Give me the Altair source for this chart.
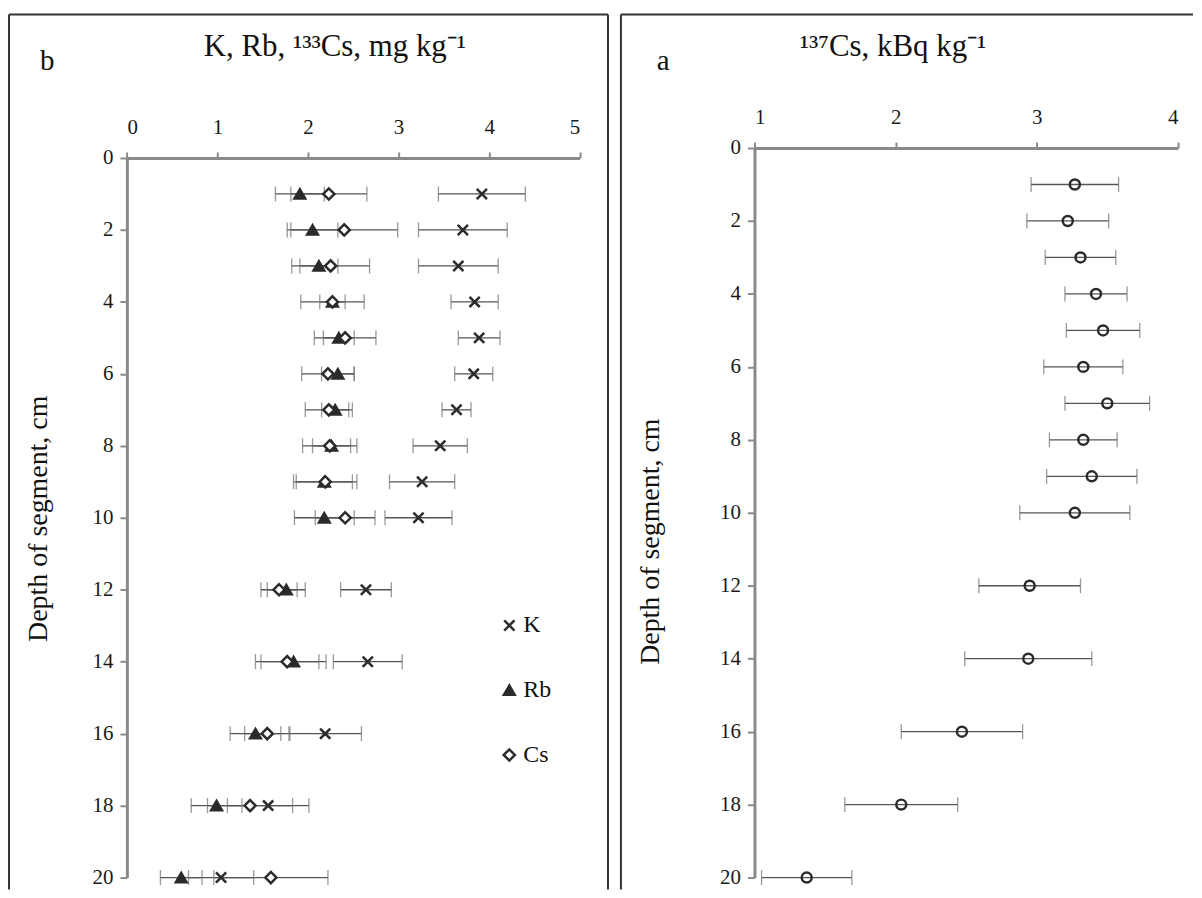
import altair as alt
import pandas as pd

# ---------------- data ----------------
depth = [1, 2, 3, 4, 5, 6, 7, 8, 9, 10, 12, 14, 16, 18, 20]

k_mean = [3.92, 3.71, 3.66, 3.84, 3.89, 3.83, 3.64, 3.46, 3.26, 3.22, 2.64, 2.66, 2.19, 1.56, 1.04]
k_err = [0.48, 0.49, 0.44, 0.26, 0.23, 0.21, 0.16, 0.30, 0.36, 0.37, 0.28, 0.38, 0.40, 0.45, 0.36]

rb_mean = [1.91, 2.05, 2.12, 2.27, 2.34, 2.33, 2.30, 2.26, 2.18, 2.18, 1.76, 1.84, 1.42, 0.99, 0.60]
rb_err = [0.27, 0.28, 0.21, 0.14, 0.17, 0.18, 0.15, 0.21, 0.31, 0.33, 0.21, 0.36, 0.28, 0.28, 0.23]

cs_mean = [2.23, 2.40, 2.25, 2.27, 2.41, 2.22, 2.23, 2.24, 2.19, 2.41, 1.68, 1.77, 1.55, 1.36, 1.59]
cs_err = [0.42, 0.59, 0.43, 0.35, 0.34, 0.29, 0.26, 0.30, 0.35, 0.33, 0.20, 0.35, 0.25, 0.47, 0.63]

cs137_mean = [3.27, 3.22, 3.31, 3.42, 3.47, 3.33, 3.50, 3.33, 3.39, 3.27, 2.95, 2.94, 2.47, 2.04, 1.37]
cs137_err = [0.31, 0.29, 0.25, 0.22, 0.26, 0.28, 0.30, 0.24, 0.32, 0.39, 0.36, 0.45, 0.43, 0.40, 0.32]

elements = ["K", "Rb", "Cs"]
left_ticks = [0, 1, 2, 3, 4, 5]
right_ticks = [1, 2, 3, 4]
depth_ticks = [0, 2, 4, 6, 8, 10, 12, 14, 16, 18, 20]

title_left = "K, Rb, ¹³³Cs, mg kg⁻¹"
title_right = "¹³⁷Cs, kBq kg⁻¹"
depth_title = "Depth of segment, cm"

# ---------------- tables ----------------
rows = []
for name, m, e in [("K", k_mean, k_err), ("Rb", rb_mean, rb_err), ("Cs", cs_mean, cs_err)]:
    for d, mv, ev in zip(depth, m, e):
        rows.append({"el": name, "depth": d, "val": mv, "lo": mv - ev, "hi": mv + ev})
df_left = pd.DataFrame(rows)

df_right = pd.DataFrame({
    "depth": depth,
    "val": cs137_mean,
    "lo": [m - e for m, e in zip(cs137_mean, cs137_err)],
    "hi": [m + e for m, e in zip(cs137_mean, cs137_err)],
})

# ---------------- style ----------------
SERIF = "Liberation Serif"
INK = "#2b2b2b"
AXIS_GRAY = "#8a8a8a"
BAR = "#555555"
CAP = "#6e6e6e"

LW, LH = 601, 878   # left panel frame
RW, RH = 574, 878   # right panel frame
GAP = 11


def one():
    return pd.DataFrame({"a": [0]})


def x_axis(values, offset):
    return alt.Axis(orient="top", offset=offset, values=values, title=None, grid=False,
                    tickSize=6, tickWidth=2, tickColor=AXIS_GRAY, domainColor=AXIS_GRAY,
                    domainWidth=3, labelFont=SERIF, labelFontSize=21, labelColor="#1a1a1a",
                    labelPadding=15, format="d")


def y_axis(offset):
    return alt.Axis(orient="left", offset=offset, values=depth_ticks, title=None, grid=False,
                    tickSize=7, tickWidth=2, tickColor=AXIS_GRAY, domainColor=AXIS_GRAY,
                    domainWidth=3, labelFont=SERIF, labelFontSize=21, labelColor="#1a1a1a",
                    labelPadding=7, format="d")


def frame(w, h, right=True):
    parts = [
        alt.Chart(one()).mark_rule(color="#333333", strokeWidth=2).encode(
            x=alt.value(0), y=alt.value(0), y2=alt.value(h)),
        alt.Chart(one()).mark_rule(color="#333333", strokeWidth=2).encode(
            x=alt.value(0), x2=alt.value(w), y=alt.value(0)),
    ]
    if right:
        parts.append(alt.Chart(one()).mark_rule(color="#333333", strokeWidth=2).encode(
            x=alt.value(w), y=alt.value(0), y2=alt.value(h)))
    return parts


def label(text, x, y, size, angle=0, align="left"):
    return alt.Chart(one()).mark_text(
        text=text, font=SERIF, fontSize=size, color="#111111", angle=angle,
        align=align, baseline="alphabetic").encode(x=alt.value(x), y=alt.value(y))


def errorbars(data, xs, ys, xax, yax):
    bar = alt.Chart(data).mark_rule(color=BAR, strokeWidth=1.3).encode(
        x=alt.X("lo:Q", scale=xs, axis=xax), x2="hi:Q",
        y=alt.Y("depth:Q", scale=ys, axis=yax))
    cap_lo = alt.Chart(data).mark_tick(color=CAP, thickness=1.3, size=15, orient="vertical").encode(
        x=alt.X("lo:Q", scale=xs, axis=xax), y=alt.Y("depth:Q", scale=ys, axis=yax))
    cap_hi = alt.Chart(data).mark_tick(color=CAP, thickness=1.3, size=15, orient="vertical").encode(
        x=alt.X("hi:Q", scale=xs, axis=xax), y=alt.Y("depth:Q", scale=ys, axis=yax))
    return [bar, cap_lo, cap_hi]


# ---------------- left panel (b) ----------------
xs_l = alt.Scale(domain=[0, 5], range=[118.3, 572.6], nice=False, zero=False)
ys_l = alt.Scale(domain=[0, 20], range=[144, 866], nice=False, zero=False)
xax_l = x_axis(left_ticks, -144)
yax_l = y_axis(-118.3)

x_shape = "M-1,-1L1,1M1,-1L-1,1"
legend = alt.Legend(orient="none", legendX=490, legendY=601, title=None, labelFont=SERIF,
                    labelFontSize=24, labelColor="#111111", rowPadding=41, labelOffset=2,
                    symbolStrokeWidth=2.5)

pts_l = alt.Chart(df_left).mark_point(strokeWidth=2.5, opacity=1).encode(
    x=alt.X("val:Q", scale=xs_l, axis=xax_l),
    y=alt.Y("depth:Q", scale=ys_l, axis=yax_l),
    shape=alt.Shape("el:N", scale=alt.Scale(domain=elements, range=[x_shape, "triangle-up", "diamond"]),
                    legend=legend),
    fill=alt.Fill("el:N", scale=alt.Scale(domain=elements, range=["transparent", INK, "white"]),
                  legend=legend),
    stroke=alt.Stroke("el:N", scale=alt.Scale(domain=elements, range=[INK, INK, INK]),
                      legend=legend),
    size=alt.Size("el:N", scale=alt.Scale(domain=elements, range=[105, 125, 80]), legend=legend),
    order=alt.Order("ord:Q"),
).transform_calculate(ord="datum.el == 'K' ? 0 : (datum.el == 'Rb' ? 1 : 2)")

left = alt.layer(
    *frame(LW, LH, right=True),
    *errorbars(df_left, xs_l, ys_l, xax_l, yax_l),
    pts_l,
    label("b", 31, 56, 29),
    label(title_left, 327, 42, 31, align="center"),
    label(depth_title, 38, 506, 28, angle=270, align="center"),
).properties(width=LW, height=LH)

# ---------------- right panel (a) ----------------
xs_r = alt.Scale(domain=[1, 4], range=[134, 558.8], nice=False, zero=False)
ys_r = alt.Scale(domain=[0, 20], range=[134, 866], nice=False, zero=False)
xax_r = x_axis(right_ticks, -134)
yax_r = y_axis(-134)

pts_r = alt.Chart(df_right).mark_point(shape="circle", filled=False, stroke=INK, strokeWidth=2.5,
                                       size=100, opacity=1).encode(
    x=alt.X("val:Q", scale=xs_r, axis=xax_r),
    y=alt.Y("depth:Q", scale=ys_r, axis=yax_r),
)

right = alt.layer(
    *frame(RW, RH, right=False),
    *errorbars(df_right, xs_r, ys_r, xax_r, yax_r),
    pts_r,
    label("a", 36, 56, 29),
    label(title_right, 273, 42, 31, align="center"),
    label(depth_title, 38, 529, 28, angle=270, align="center"),
).properties(width=RW, height=RH)

chart = alt.hconcat(left, right, spacing=GAP).properties(
    padding={"left": 0, "top": 4, "right": 0, "bottom": 0}
).configure_view(strokeWidth=0).configure_axis(labelFont=SERIF)

chart.save("out.html", embed_options={"renderer": "svg", "actions": False})
